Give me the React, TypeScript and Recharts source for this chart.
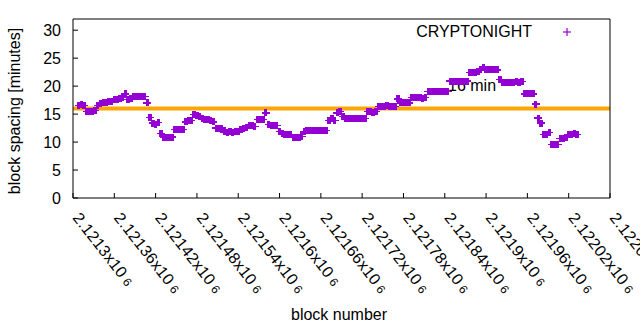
import React from "react"
import { ScatterChart, Scatter, XAxis, YAxis, ReferenceLine } from "recharts"

// block spacing samples, one every 4 blocks starting at block 2121308
const firstBlock = 2121308
const blockStep = 4
const spacing = [
  16.6, 16.8, 16.6, 15.5, 15.4, 15.5, 15.6, 16.6, 16.9, 17.0,
  17.0, 17.3, 17.3, 17.6, 17.6, 17.7, 18.0, 18.6, 17.6, 17.8,
  18.2, 18.2, 18.2, 18.2, 18.1, 17.0, 14.4, 13.4, 13.2, 13.5,
  11.6, 10.9, 10.9, 10.8, 10.9, 12.3, 12.3, 12.3, 12.3, 13.6,
  13.8, 13.9, 14.9, 14.7, 14.5, 14.3, 14.1, 14.0, 13.9, 13.6,
  12.5, 12.4, 12.5, 11.8, 11.7, 11.8, 11.7, 11.8, 11.8, 12.3,
  12.4, 12.6, 12.9, 12.9, 12.8, 14.0, 14.1, 14.1, 15.2, 13.1,
  13.0, 12.9, 13.0, 11.9, 11.6, 11.4, 11.3, 11.4, 10.9, 10.8,
  10.9, 11.0, 11.8, 12.1, 12.1, 12.0, 12.1, 12.1, 12.0, 12.1,
  12.1, 13.9, 14.2, 13.8, 15.2, 15.4, 14.6, 14.3, 14.2, 14.3,
  14.3, 14.2, 14.3, 14.3, 14.2, 15.4, 15.4, 15.3, 15.5, 16.4,
  16.4, 16.4, 16.5, 16.4, 16.4, 16.4, 17.7, 17.0, 17.0, 17.1,
  17.0, 17.9, 17.9, 18.0, 17.9, 17.8, 18.0, 19.1, 19.1, 19.1,
  19.1, 19.1, 19.1, 19.1, 19.1, 20.9, 20.9, 20.9, 20.9, 20.9,
  20.9, 20.9, 22.5, 22.4, 22.5, 22.7, 22.9, 23.3, 22.9, 22.9,
  22.9, 23.0, 22.9, 21.2, 20.6, 20.7, 20.6, 20.6, 20.7, 20.8,
  20.7, 20.8, 18.6, 18.6, 18.6, 18.6, 16.8, 14.3, 13.4, 11.3,
  11.4, 11.7, 9.6, 9.6, 9.6, 10.7, 10.7, 10.8, 11.4, 11.4,
  11.5, 11.4,
]

const xTicks = [2121300, 2121360, 2121420, 2121480, 2121540, 2121600, 2121660, 2121720, 2121780, 2121840, 2121900, 2121960, 2122020, 2122080]
const xTickLabels = ["2.1213", "2.12136", "2.12142", "2.12148", "2.12154", "2.1216", "2.12166", "2.12172", "2.12178", "2.12184", "2.1219", "2.12196", "2.12202", "2.12208"]
const yTicks = [0, 5, 10, 15, 20, 25, 30]
const targetMinutes = 16

const PURPLE = "#9400D3"
const ORANGE = "#FFA500"
const FONT = "'Liberation Sans', Arial, sans-serif"

const data = spacing.map((v, i) => ({ block: firstBlock + i * blockStep, minutes: v }))

function Cross(props: any) {
  const { cx, cy } = props
  return (
    <g shapeRendering="crispEdges">
      <rect x={cx - 4} y={cy - 0.6} width={8} height={1.2} fill={PURPLE} />
      <rect x={cx - 1.7} y={cy - 3.5} width={3.4} height={7} fill={PURPLE} />
    </g>
  )
}

function BlockTick(props: any) {
  const { x, payload } = props
  const i = xTicks.indexOf(payload.value)
  const y = 218
  return (
    <text x={x - 1} y={y} transform={`rotate(52, ${x - 1}, ${y})`} fill="#000" fontSize={16} letterSpacing={0.3} fontFamily={FONT}>
      {xTickLabels[i]}x10<tspan fontSize={12}> 6</tspan>
    </text>
  )
}

export default function App() {
  return (
    <div style={{ position: "absolute", left: 0, top: 0, width: 640, height: 330, background: "#fff", fontFamily: FONT, color: "#000" }}>
      <div style={{ position: "absolute", left: 448, top: 77, fontSize: 16, whiteSpace: "nowrap" }}>{targetMinutes} min</div>
      <div style={{ position: "absolute", left: 0, top: 0 }}>
        <ScatterChart width={640} height={330} margin={{ top: 18, right: 29, bottom: 0, left: 0 }}>
          <XAxis
            type="number"
            dataKey="block"
            domain={[2121300, 2122080]}
            ticks={xTicks}
            interval={0}
            height={132}
            stroke="#000"
            tickSize={-5}
            tickMargin={10}
            tick={<BlockTick />}
          />
          <XAxis xAxisId="top" orientation="top" type="number" dataKey="block" domain={[2121300, 2122080]} ticks={xTicks} interval={0} height={1} stroke="#000" tickSize={-5} tick={false} />
          <YAxis
            type="number"
            dataKey="minutes"
            domain={[0, 32]}
            ticks={yTicks}
            interval={0}
            width={73}
            stroke="#000"
            tickSize={-5}
            tickMargin={17}
            tick={{ fill: "#000", fontSize: 16, fontFamily: FONT }}
          />
          <YAxis yAxisId="right" orientation="right" type="number" dataKey="minutes" domain={[0, 32]} ticks={yTicks} interval={0} width={1} stroke="#000" tickSize={-5} tick={false} />
          <Scatter data={data} shape={<Cross />} isAnimationActive={false} />
          <Scatter data={data} xAxisId="top" yAxisId="right" shape={() => <g />} isAnimationActive={false} />
          <ReferenceLine y={targetMinutes} stroke={ORANGE} strokeWidth={4} />
        </ScatterChart>
      </div>
      <div style={{ position: "absolute", left: 15, top: 111, transform: "translate(-50%, -50%) rotate(-90deg)", fontSize: 16, whiteSpace: "nowrap" }}>block spacing [minutes]</div>
      <div style={{ position: "absolute", left: 339, top: 315, transform: "translate(-50%, -50%)", fontSize: 16, whiteSpace: "nowrap" }}>block number</div>
      <div style={{ position: "absolute", right: 108, top: 32, transform: "translateY(-50%)", fontSize: 16, whiteSpace: "nowrap" }}>CRYPTONIGHT</div>
      <svg style={{ position: "absolute", left: 562, top: 27 }} width={10} height={10}>
        <line x1={1} x2={9} y1={5} y2={5} stroke={PURPLE} strokeWidth={1.2} />
        <line x1={5} x2={5} y1={1} y2={9} stroke={PURPLE} strokeWidth={1.2} />
      </svg>
    </div>
  )
}
